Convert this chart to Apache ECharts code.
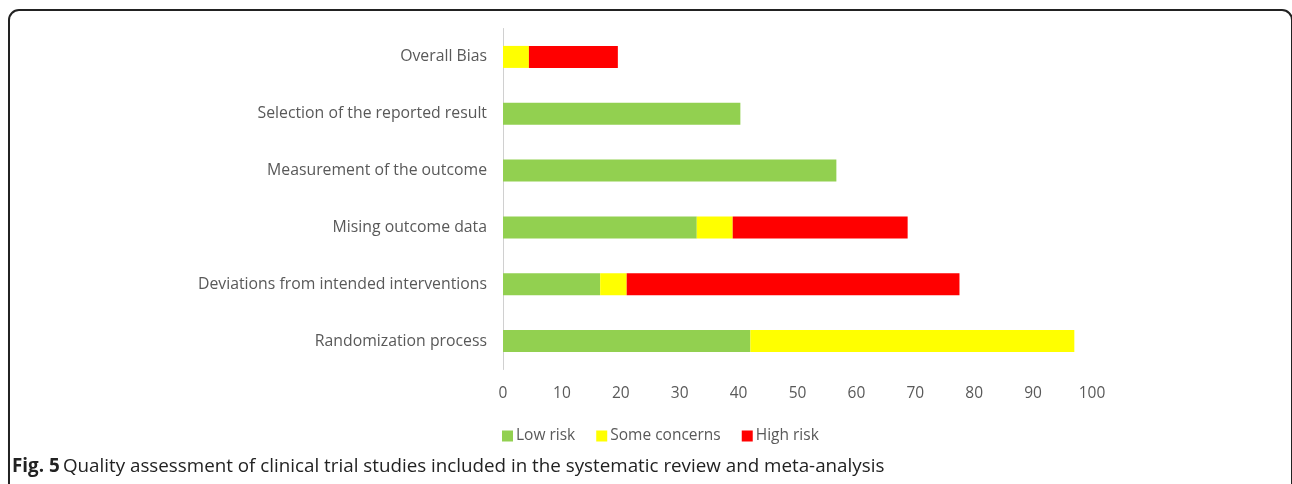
<!DOCTYPE html>
<html><head><meta charset="utf-8">
<script src="https://cdn.jsdelivr.net/npm/echarts@6/dist/echarts.min.js"></script>
<style>html,body{margin:0;padding:0;background:#fff}#c{width:1292px;height:484px}</style>
</head><body><div id="c"></div>
<script>
const categories = ["Randomization process","Deviations from intended interventions","Mising outcome data","Measurement of the outcome","Selection of the reported result","Overall Bias"];
const lowRisk = [42.0, 16.5, 32.9, 56.6, 40.3, 0];
const someConcerns = [55.0, 4.5, 6.1, 0, 0, 4.4];
const highRisk = [0, 56.5, 29.7, 0, 0, 15.1];
const xTicks = {min:0, max:100, interval:10};
const seriesNames = ["Low risk","Some concerns","High risk"];
const colors = ["#92D050","#FFFF00","#FF0000"];

const chart = echarts.init(document.getElementById('c'), null, {renderer:'canvas'});
const font = "'Open Sans', sans-serif";
chart.setOption({
  animation:false,
  grid:{left:503, right:200, top:28.5, bottom:114.5, containLabel:false},
  xAxis:{type:'value', min:xTicks.min, max:xTicks.max, interval:xTicks.interval,
    axisLine:{show:false}, axisTick:{show:false}, splitLine:{show:false},
    axisLabel:{color:'#595959', fontSize:15.5, fontFamily:font, margin:16}},
  yAxis:{type:'category', data:categories,
    axisLine:{show:true, lineStyle:{color:'#d0d0d0', width:1}}, axisTick:{show:false},
    axisLabel:{color:'#595959', fontSize:15.8, fontFamily:font, margin:16}},
  legend:{data:seriesNames, left:497, top:423, itemWidth:11, itemHeight:11, itemGap:21,
    icon:'rect', textStyle:{color:'#595959', fontSize:15.5, fontFamily:font, padding:[0,0,0,-2]}},
  series:[lowRisk, someConcerns, highRisk].map((d,i)=>({
    name:seriesNames[i], type:'bar', stack:'t', data:d, barWidth:22,
    itemStyle:{color:colors[i]}})),
  graphic:[
    {type:'rect', shape:{x:9, y:10, width:1283, height:500, r:10},
      style:{fill:'none', stroke:'#222', lineWidth:2}, silent:true},
    {type:'text', left:12, top:457, style:{rich:{b:{fontWeight:'bold', fontSize:18.8, fill:'#222', fontFamily:font}, n:{fontSize:18.8, fill:'#222', fontFamily:font}},
      text:'{b|Fig. 5} {n|Quality assessment of clinical trial studies included in the systematic review and meta-analysis}'}}
  ]
});
</script></body></html>
